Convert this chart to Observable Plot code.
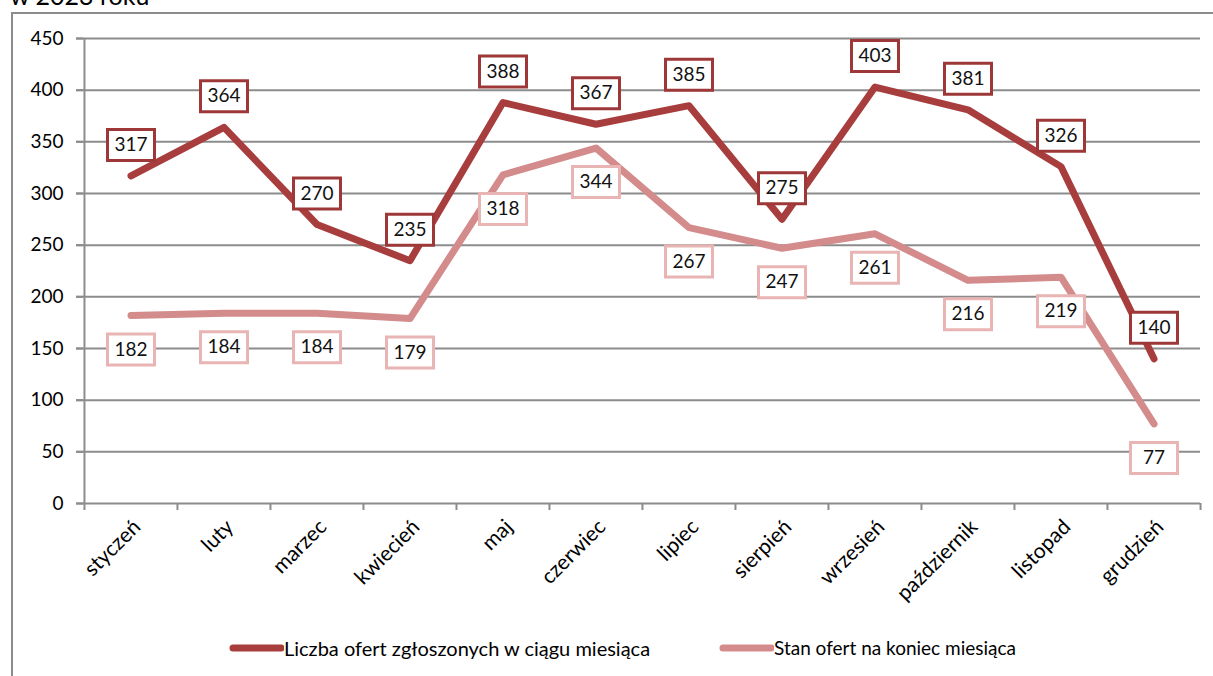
<!DOCTYPE html>
<html>
<head>
<meta charset="utf-8">
<script src="https://cdn.jsdelivr.net/npm/d3@7"></script>
<script src="https://cdn.jsdelivr.net/npm/@observablehq/plot@0.6"></script>
<style>
  html, body { margin: 0; padding: 0; background: #fff; overflow: hidden; }
  body { width: 1213px; height: 676px; position: relative; font-family: Lato, "Open Sans", sans-serif; }
  #title { position: absolute; left: 10px; top: -20px; font-size: 25px; color: #000; white-space: nowrap; }
  #frame { position: absolute; left: 11px; top: 12px; width: 1400px; height: 900px; border: 2px solid #8c8c8c; box-sizing: border-box; }
  #chart { position: absolute; left: 0; top: 0; }
  #legend { position: absolute; left: 0; top: 634px; width: 1213px; height: 32px; font-size: 20px; color: #000; }
  .item { position: absolute; top: 2px; display: flex; align-items: center; white-space: nowrap; }
  .item svg { margin-right: 0px; }
</style>
</head>
<body>
<div id="title">w 2023 roku</div>
<div id="frame"></div>
<div id="chart"></div>
<div id="legend"></div>
<script>
const months = ["styczeń","luty","marzec","kwiecień","maj","czerwiec","lipiec","sierpień","wrzesień","październik","listopad","grudzień"];
const zgloszone = [317, 364, 270, 235, 388, 367, 385, 275, 403, 381, 326, 140];
const stan = [182, 184, 184, 179, 318, 344, 267, 247, 261, 216, 219, 77];
const seriesNames = ["Liczba ofert zgłoszonych w ciągu miesiąca", "Stan ofert na koniec miesiąca"];
const lineColors = ["#a83d3d", "#d48b8b"];
const boxColors = ["#9e3838", "#e9b4b4"];
const yTicks = [0, 50, 100, 150, 200, 250, 300, 350, 400, 450];

const dataA = months.map((m, i) => ({month: m, value: zgloszone[i]}));
const dataB = months.map((m, i) => ({month: m, value: stan[i]}));

const W = 1213, H = 625, mL = 83, mR = 13, mT = 38, mB = 122;
const bw = (W - mL - mR) / months.length;

const boxSymbol = { draw(ctx) { ctx.moveTo(-23.5, -15.5); ctx.lineTo(23.5, -15.5); ctx.lineTo(23.5, 15.5); ctx.lineTo(-23.5, 15.5); ctx.closePath(); } };

const grid = "#8c8c8c";
const chart = Plot.plot({
  width: W, height: H,
  marginLeft: mL, marginRight: mR, marginTop: mT, marginBottom: mB,
  style: { fontFamily: "Lato, 'Open Sans', sans-serif", fontSize: "19px", color: "#000", background: "transparent" },
  x: { type: "band", domain: months, padding: 0 },
  y: { domain: [0, 450] },
  marks: [
    Plot.ruleY(yTicks.filter(t => t > 0), { stroke: grid, strokeWidth: 2, insetLeft: -7 }),
    Plot.axisY({ ticks: yTicks, tickSize: 7, tickPadding: 13, stroke: grid, strokeWidth: 2, fontSize: 19, tickFormat: d => d, label: null }),
    Plot.ruleX(months, { x: d => d, y1: 0, y2: 450, dx: -bw / 2, stroke: grid, strokeWidth: 2, filter: (d, i) => i === 0 }),
    Plot.ruleY([0], { stroke: grid, strokeWidth: 2, insetLeft: -7 }),
    Plot.ruleX(months, { x: d => d, y1: 0, y2: 0, insetBottom: -7, dx: -bw / 2, stroke: grid, strokeWidth: 2 }),
    Plot.ruleX(months.slice(-1), { x: d => d, y1: 0, y2: 0, insetBottom: -7, dx: bw / 2, stroke: grid, strokeWidth: 2 }),
    Plot.axisX({ tickSize: 0, tickRotate: -45, tickPadding: 20, dx: 6, fontSize: 21, label: null }),
    Plot.line(dataB, { x: "month", y: "value", stroke: lineColors[1], strokeWidth: 7, strokeLinecap: "round", strokeLinejoin: "round" }),
    Plot.line(dataA, { x: "month", y: "value", stroke: lineColors[0], strokeWidth: 7, strokeLinecap: "round", strokeLinejoin: "round" }),
    Plot.dot(dataA, { x: "month", y: "value", dy: -31, symbol: boxSymbol, fill: "white", stroke: boxColors[0], strokeWidth: 3 }),
    Plot.text(dataA, { x: "month", y: "value", dy: -31, text: d => String(d.value), fontSize: 19, fill: "#111" }),
    Plot.dot(dataB, { x: "month", y: "value", dy: 34, symbol: boxSymbol, fill: "white", stroke: boxColors[1], strokeWidth: 3 }),
    Plot.text(dataB, { x: "month", y: "value", dy: 34, text: d => String(d.value), fontSize: 19, fill: "#111" })
  ]
});
document.getElementById("chart").appendChild(chart);

const legend = document.getElementById("legend");
const positions = [228, 718];
const legendSizes = [20, 19];
seriesNames.forEach((name, i) => {
  const div = document.createElement("div");
  div.className = "item";
  div.style.left = positions[i] + "px";
  div.style.fontSize = legendSizes[i] + "px";
  div.innerHTML = `<svg width="56" height="12"><line x1="5" y1="6" x2="53" y2="6" stroke="${lineColors[i]}" stroke-width="7" stroke-linecap="round"/></svg><span>${name}</span>`;
  legend.appendChild(div);
});
</script>
</body>
</html>
